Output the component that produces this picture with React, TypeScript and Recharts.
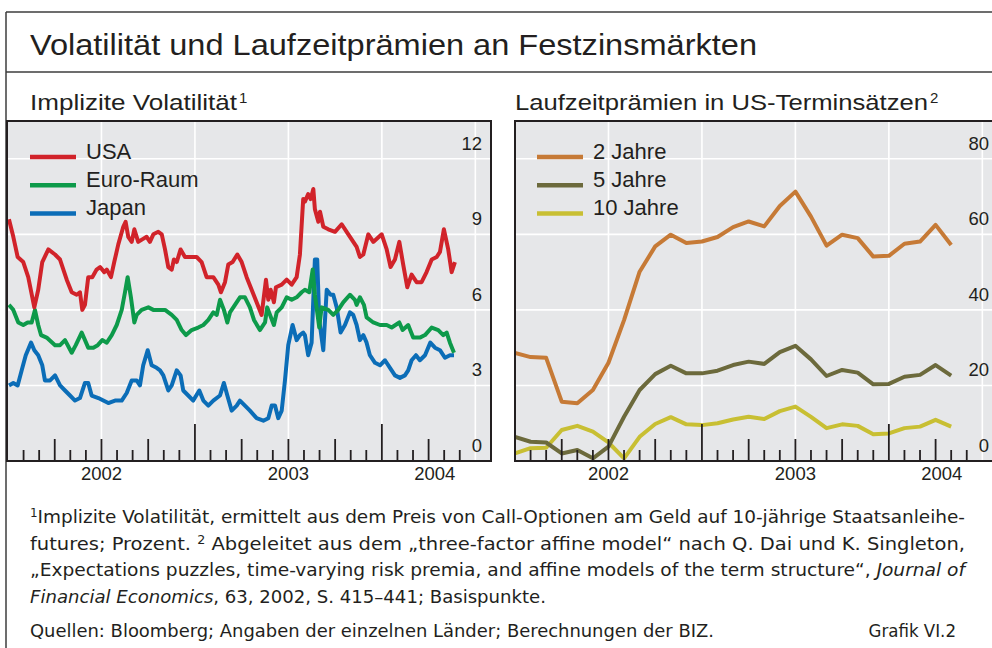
import React from 'react';
import { LineChart, Line, XAxis, YAxis, CartesianGrid, ReferenceLine, Legend } from 'recharts';

// time axis: months since Jan 2002
const yearLabels = [
  { t: 6, label: '2002' },
  { t: 18, label: '2003' },
  { t: 27.4, label: '2004' },
];
const gridMonths = [6, 12, 18, 24, 30];
const tickMonths = [...Array.from({ length: 29 }, (_, i) => i + 1), 27.4].sort((a, b) => a - b);

// implied volatility, per cent  [month, value]
const usaVol: [number, number][] = [
  [0.06, 9.6], [0.34, 8.9], [0.62, 8.1], [0.98, 7.9], [1.3, 7.3], [1.69, 6.1], [1.94, 6.8], [2.2, 7.9],
  [2.59, 8.4], [3.02, 8.2], [3.34, 8.0], [3.77, 7.2], [4.09, 6.7], [4.41, 6.6], [4.62, 6.7], [4.77, 6.0],
  [4.94, 6.2], [5.15, 7.3], [5.41, 7.3], [5.69, 7.6], [5.91, 7.7], [6.18, 7.5], [6.34, 7.6], [6.61, 7.3],
  [6.82, 7.9], [7.08, 8.6], [7.4, 9.3], [7.55, 9.5], [7.72, 8.9], [7.94, 8.7], [8.11, 9.2], [8.36, 8.7],
  [8.62, 8.8], [8.9, 8.9], [9.11, 8.7], [9.33, 9.0], [9.65, 9.1], [9.87, 9.0], [10.08, 8.4], [10.29, 7.7],
  [10.51, 7.6], [10.65, 8.0], [10.83, 7.9], [11.08, 8.4], [11.36, 8.1], [11.79, 8.1], [12.11, 8.1],
  [12.43, 7.9], [12.75, 7.3], [13.18, 7.3], [13.5, 7.0], [13.67, 6.7], [13.93, 7.1], [14.14, 7.8],
  [14.42, 7.9], [14.72, 8.2], [15.0, 7.9], [15.32, 7.3], [15.64, 6.8], [15.96, 6.3], [16.28, 5.8],
  [16.56, 7.2], [16.71, 6.4], [16.86, 6.8], [17.07, 6.3], [17.2, 6.9], [17.57, 7.0], [17.89, 7.2],
  [18.21, 7.0], [18.53, 7.3], [18.74, 8.2], [18.95, 10.4], [19.06, 10.3], [19.27, 10.6], [19.43, 10.4],
  [19.6, 10.8], [19.7, 10.0], [19.92, 9.5], [20.03, 9.9], [20.24, 9.3], [20.56, 9.2], [20.99, 9.1],
  [21.42, 9.4], [21.74, 9.1], [22.06, 8.8], [22.38, 8.5], [22.59, 8.1], [22.81, 8.2], [23.13, 9.0],
  [23.45, 8.7], [23.99, 9.0], [24.31, 8.4], [24.56, 7.7], [24.84, 8.0], [25.12, 8.7], [25.37, 7.8],
  [25.63, 6.9], [25.91, 7.4], [26.23, 7.1], [26.55, 7.1], [26.87, 7.5], [27.2, 8.0], [27.52, 8.1],
  [27.73, 8.3], [27.98, 9.2], [28.26, 8.4], [28.48, 7.5], [28.69, 7.9],
];

const euroVol: [number, number][] = [
  [0.06, 6.2], [0.34, 6.0], [0.66, 5.5], [0.98, 5.4], [1.26, 5.5], [1.52, 5.5], [1.73, 6.0], [1.94, 5.4],
  [2.12, 5.0], [2.48, 4.9], [3.02, 4.6], [3.34, 4.6], [3.66, 4.8], [4.09, 4.3], [4.35, 4.6], [4.73, 5.1],
  [5.15, 4.5], [5.48, 4.5], [5.76, 4.6], [6.05, 4.8], [6.34, 4.7], [6.66, 5.0], [6.98, 5.4], [7.3, 6.0],
  [7.51, 6.7], [7.68, 7.3], [7.89, 6.5], [8.11, 5.5], [8.26, 5.8], [8.58, 6.0], [9.01, 6.1], [9.33, 6.0],
  [9.76, 6.0], [10.08, 6.0], [10.51, 5.8], [10.83, 5.6], [11.15, 5.2], [11.43, 5.0], [11.79, 5.2],
  [12.21, 5.3], [12.54, 5.4], [12.86, 5.6], [13.18, 5.9], [13.4, 5.8], [13.61, 6.4], [13.86, 6.0],
  [14.08, 5.5], [14.25, 5.9], [14.57, 6.2], [14.89, 6.5], [15.21, 6.5], [15.53, 6.1], [15.79, 5.6],
  [16.17, 5.2], [16.5, 5.5], [16.64, 6.1], [16.82, 5.8], [17.07, 5.4], [17.25, 5.9], [17.57, 6.1],
  [17.89, 6.5], [18.21, 6.4], [18.53, 6.5], [18.85, 6.7], [19.06, 6.8], [19.34, 6.7], [19.56, 7.6],
  [19.7, 6.6], [19.98, 5.3], [20.13, 6.1], [20.56, 6.0], [20.88, 5.8], [21.2, 6.0], [21.52, 6.3],
  [21.95, 6.6], [22.27, 6.4], [22.38, 6.2], [22.59, 6.5], [22.85, 6.2], [23.02, 5.7], [23.45, 5.5],
  [23.88, 5.4], [24.31, 5.4], [24.63, 5.3], [25.12, 5.5], [25.33, 5.2], [25.69, 5.4], [26.01, 4.9],
  [26.44, 4.9], [26.77, 5.0], [27.2, 5.3], [27.62, 5.2], [27.94, 5.0], [28.16, 5.1], [28.37, 4.7],
  [28.63, 4.3],
];

const japanVol: [number, number][] = [
  [0.06, 3.0], [0.34, 3.1], [0.62, 3.0], [0.88, 3.6], [1.14, 4.2], [1.48, 4.7], [1.69, 4.4], [1.94, 4.2],
  [2.2, 3.8], [2.37, 3.2], [2.7, 3.2], [3.02, 3.4], [3.34, 3.0], [3.66, 2.8], [3.98, 2.6], [4.3, 2.4],
  [4.62, 2.5], [4.94, 3.1], [5.15, 3.1], [5.37, 2.6], [5.8, 2.5], [6.12, 2.4], [6.44, 2.3], [6.87, 2.4],
  [7.3, 2.4], [7.62, 2.7], [7.94, 3.2], [8.26, 3.2], [8.47, 3.0], [8.68, 3.8], [8.97, 4.4], [9.22, 3.8],
  [9.54, 3.7], [9.76, 3.6], [9.97, 3.4], [10.29, 2.8], [10.51, 3.0], [10.83, 3.6], [11.08, 3.4],
  [11.25, 2.8], [11.57, 2.6], [11.89, 2.4], [12.28, 2.8], [12.54, 2.4], [12.86, 2.2], [13.18, 2.4],
  [13.61, 2.6], [13.86, 3.1], [14.08, 2.6], [14.36, 2.0], [14.68, 2.2], [14.89, 2.4], [15.21, 2.2],
  [15.53, 2.0], [15.96, 1.7], [16.39, 1.6], [16.71, 1.7], [16.93, 2.2], [17.14, 2.2], [17.35, 1.7],
  [17.57, 2.0], [17.78, 3.2], [17.99, 4.6], [18.27, 5.4], [18.53, 4.8], [18.74, 5.0], [18.95, 5.1],
  [19.06, 5.0], [19.27, 4.2], [19.49, 4.7], [19.7, 8.0], [19.85, 8.0], [19.98, 5.6], [20.24, 4.4],
  [20.46, 6.8], [20.71, 6.6], [20.88, 6.6], [21.1, 6.1], [21.35, 5.1], [21.63, 5.4], [21.95, 5.9],
  [22.16, 5.8], [22.38, 5.4], [22.59, 4.8], [22.81, 5.0], [23.02, 4.7], [23.23, 4.2], [23.56, 3.9],
  [23.88, 3.8], [24.2, 4.0], [24.52, 3.7], [24.84, 3.4], [25.16, 3.3], [25.48, 3.4], [25.69, 3.6],
  [25.91, 4.0], [26.19, 4.2], [26.44, 4.0], [26.77, 4.2], [27.11, 4.7], [27.41, 4.5], [27.73, 4.4],
  [28.05, 4.1], [28.37, 4.2], [28.63, 4.2],
];

// term premia in US forward rates, basis points, monthly from Jan 2002
const premia2y = [28.6, 27.5, 27.3, 15.7, 15.3, 18.8, 26.0, 37.3, 50.1, 56.8, 59.9, 57.7, 58.1, 59.3, 61.9, 63.4, 62.1, 67.5, 71.3, 64.7, 57.0, 59.9, 59.0, 54.1, 54.3, 57.5, 58.1, 62.5, 57.2];
const premia5y = [6.4, 5.1, 4.9, 2.0, 2.9, 0.7, 3.8, 11.7, 18.8, 23.0, 25.2, 23.2, 23.2, 23.9, 25.4, 26.3, 25.7, 28.8, 30.5, 26.9, 22.5, 24.1, 23.4, 20.3, 20.4, 22.3, 22.8, 25.4, 22.6];
const premia10y = [2.0, 3.4, 3.5, 8.2, 9.3, 7.8, 4.9, 0.7, 6.4, 9.8, 11.6, 9.7, 9.5, 10.0, 11.0, 11.7, 11.1, 13.2, 14.4, 11.7, 8.7, 9.7, 9.3, 7.1, 7.3, 8.7, 9.1, 10.9, 9.1];

const volTicks = [0, 3, 6, 9, 12];
const premiaTicks = [0, 20, 40, 60, 80];

const INK = '#231f20';
const FONT = '"Liberation Sans", Arial, sans-serif';
const NARROW = '"Liberation Sans Narrow", "DejaVu Sans Condensed", "Liberation Sans", sans-serif';
const BG = '#e6e7e9';

const toRows = (pts: [number, number][]) => pts.map(([t, v]) => ({ t, v }));

const volSeries = [
  { name: 'USA', color: '#d1232a', data: toRows(usaVol) },
  { name: 'Euro-Raum', color: '#0d9a4a', data: toRows(euroVol) },
  { name: 'Japan', color: '#0b6db7', data: toRows(japanVol) },
];

const premiaRows = premia2y.map((v, i) => ({ t: i, y2: v, y5: premia5y[i], y10: premia10y[i] }));
const premiaSeries = [
  { name: '2 Jahre', color: '#c67a36', key: 'y2' },
  { name: '5 Jahre', color: '#6c6a3c', key: 'y5' },
  { name: '10 Jahre', color: '#c8bf33', key: 'y10' },
];

const MonthTick = (props: any) => {
  const { x, y, payload } = props;
  const v = payload.value as number;
  const lab = yearLabels.find((l) => l.t === v);
  const whole = Number.isInteger(v);
  const len = v % 12 === 0 ? 37 : v % 3 === 0 ? 22 : 11;
  return (
    <g>
      {whole && <line x1={x} x2={x} y1={y} y2={y - len} stroke={INK} strokeWidth={1.8} />}
      {lab && (
        <text x={x} y={y + 19} textAnchor="middle" fontSize={18.5} fill={INK} fontFamily={FONT}>
          {lab.label}
        </text>
      )}
    </g>
  );
};

// value labels sit inside the plot, right-aligned, just above their gridline
const ValueTick = (props: any) => {
  const { x, y, payload } = props;
  return (
    <text x={x - 10} y={y - 9} textAnchor="end" fontSize={18.5} fill={INK} fontFamily={FONT}>
      {payload.value}
    </text>
  );
};

const legendBox = (items: { name: string; color: string }[]) => () => (
  <svg width={260} height={110} style={{ display: 'block' }}>
    {items.map((s, i) => (
      <g key={s.name}>
        <line x1={22} x2={68} y1={36 + i * 28.2} y2={36 + i * 28.2} stroke={s.color} strokeWidth={4.5} />
        <text x={78} y={37.5 + i * 28.2} fontSize={22} fill={INK} fontFamily={FONT}>
          {s.name}
        </text>
      </g>
    ))}
  </svg>
);

const W = 485;
const H = 374;

const axes = (yMax: number, yTicks: number[]) => [
  <CartesianGrid key="g" vertical={false} fill={BG} stroke="#ffffff" strokeWidth={1.6} />,
  ...gridMonths.map((m) => <ReferenceLine key={'r' + m} x={m} stroke="#ffffff" strokeWidth={1.6} />),
  <XAxis
    key="x"
    dataKey="t"
    type="number"
    domain={[0, 31.07]}
    allowDataOverflow
    ticks={tickMonths}
    interval={0}
    tick={<MonthTick />}
    tickLine={false}
    tickSize={0}
    tickMargin={0}
    height={34}
    axisLine={{ stroke: INK, strokeWidth: 2 }}
  />,
  <YAxis
    key="y"
    orientation="right"
    width={1}
    domain={[0, yMax]}
    ticks={yTicks}
    allowDataOverflow
    tick={<ValueTick />}
    tickLine={false}
    tickSize={0}
    tickMargin={0}
    axisLine={false}
    interval={0}
  />,
];

export default function App() {
  return (
    <div style={{ position: 'absolute', left: 0, top: 0, width: 992, height: 648, overflow: 'hidden', background: '#fff' }}>
      <div style={{ position: 'absolute', left: 8, top: 121 }}>
        <LineChart width={W} height={H} margin={{ top: 0, right: 0, bottom: 0, left: 0 }}>
          {axes(13.5, volTicks)}
          <Legend
            layout="vertical"
            align="center"
            verticalAlign="middle"
            content={legendBox(volSeries)}
            wrapperStyle={{ left: 0, top: 0, width: 260, height: 110 }}
          />
          {[...volSeries].reverse().map((s) => (
            <Line
              key={s.name}
              data={s.data}
              dataKey="v"
              name={s.name}
              type="linear"
              stroke={s.color}
              strokeWidth={4}
              dot={false}
              isAnimationActive={false}
              strokeLinejoin="round"
            />
          ))}
        </LineChart>
      </div>

      <div style={{ position: 'absolute', left: 515, top: 121 }}>
        <LineChart width={W} height={H} data={premiaRows} margin={{ top: 0, right: 0, bottom: 0, left: 0 }}>
          {axes(90, premiaTicks)}
          <Legend
            layout="vertical"
            align="center"
            verticalAlign="middle"
            content={legendBox(premiaSeries)}
            wrapperStyle={{ left: 0, top: 0, width: 260, height: 110 }}
          />
          {[...premiaSeries].reverse().map((s) => (
            <Line
              key={s.key}
              dataKey={s.key}
              name={s.name}
              type="linear"
              stroke={s.color}
              strokeWidth={4}
              dot={false}
              isAnimationActive={false}
              strokeLinejoin="round"
            />
          ))}
        </LineChart>
      </div>

      <svg width={992} height={648} style={{ position: 'absolute', left: 0, top: 0, pointerEvents: 'none' }}>
        <g stroke="#3c3c3c" strokeWidth={1.5} fill="none">
          <line x1={6} x2={6} y1={12} y2={648} />
          <line x1={6} x2={992} y1={12} y2={12} />
          <line x1={6} x2={992} y1={72} y2={72} />
        </g>
        <g stroke={INK} strokeWidth={2} fill="none">
          <rect x={7} y={121} width={484} height={340} />
          <rect x={515} y={121} width={484} height={340} />
        </g>
        <g fill={INK} fontFamily={FONT}>
          <text x={30} y={55} fontSize={30} textLength={727} lengthAdjust="spacingAndGlyphs">
            Volatilität und Laufzeitprämien an Festzinsmärkten
          </text>
          <text x={30} y={110} fontSize={22} textLength={207} lengthAdjust="spacingAndGlyphs">
            Implizite Volatilität
          </text>
          <text x={239} y={103} fontSize={15}>1</text>
          <text x={515} y={110} fontSize={22} textLength={413} lengthAdjust="spacingAndGlyphs">
            Laufzeitprämien in US-Terminsätzen
          </text>
          <text x={930} y={103} fontSize={15}>2</text>
        </g>
        <g fill={INK} fontFamily={NARROW} fontSize={18.5}>
          <text x={30} y={523} textLength={935} lengthAdjust="spacingAndGlyphs">
            <tspan fontSize={12} dy={-6}>1</tspan>
            <tspan dy={6}>Implizite Volatilität, ermittelt aus dem Preis von Call-Optionen am Geld auf 10-jährige Staatsanleihe-</tspan>
          </text>
          <text x={30} y={549.5} textLength={935} lengthAdjust="spacingAndGlyphs">
            <tspan>futures; Prozent.  </tspan>
            <tspan fontSize={12} dy={-6}> 2</tspan>
            <tspan dy={6}> Abgeleitet aus dem „three-factor affine model“ nach Q. Dai und K. Singleton,</tspan>
          </text>
          <text x={30} y={576} textLength={935} lengthAdjust="spacingAndGlyphs">
            <tspan>„Expectations puzzles, time-varying risk premia, and affine models of the term structure“, </tspan>
            <tspan fontStyle="italic">Journal of</tspan>
          </text>
          <text x={30} y={602.5} textLength={516} lengthAdjust="spacingAndGlyphs">
            <tspan fontStyle="italic">Financial Economics</tspan>
            <tspan>, 63, 2002, S. 415–441; Basispunkte.</tspan>
          </text>
          <text x={30} y={636.5} textLength={684} lengthAdjust="spacingAndGlyphs">
            Quellen: Bloomberg; Angaben der einzelnen Länder; Berechnungen der BIZ.
          </text>
          <text x={956} y={636.5} textAnchor="end">
            Grafik VI.2
          </text>
        </g>
      </svg>
    </div>
  );
}
